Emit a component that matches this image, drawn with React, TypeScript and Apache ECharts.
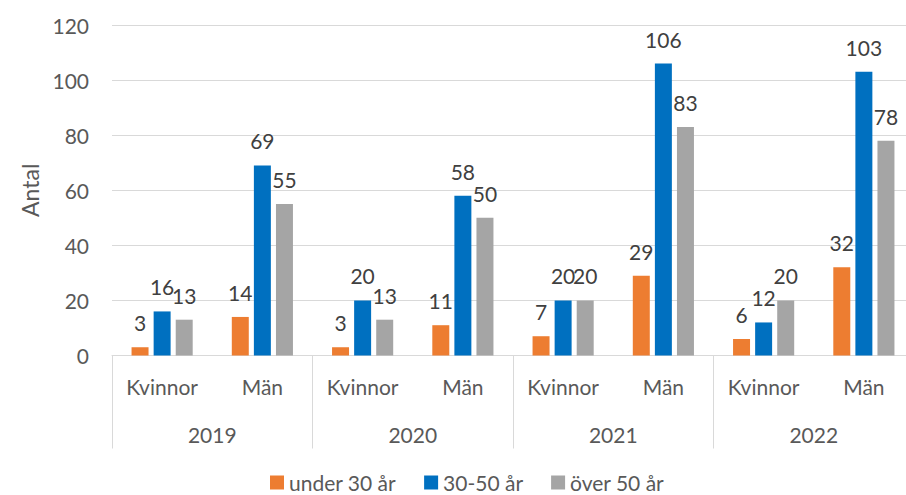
import React, { useEffect, useRef } from "react";
import * as echarts from "echarts";

const years = ["2019", "2020", "2021", "2022"];
const genders = ["Kvinnor", "Män"];
const categories = years.flatMap(() => genders);
const seriesNames = ["under 30 år", "30-50 år", "över 50 år"];
const under30 = [3, 14, 3, 11, 7, 29, 6, 32];
const mid30to50 = [16, 69, 20, 58, 20, 106, 12, 103];
const over50 = [13, 55, 13, 50, 20, 83, 20, 78];
const colors = ["#ED7D31", "#0070C0", "#A5A5A5"];
const yTicks = { min: 0, max: 120, interval: 20 };

const FONT = "Lato";
const TEXT = "#595959";
const LINE = "#D9D9D9";

export default function App() {
  const ref = useRef<HTMLDivElement>(null);
  useEffect(() => {
    if (!ref.current) return;
    const chart = echarts.init(ref.current, undefined, { renderer: "svg" });
    const values = [under30, mid30to50, over50];
    chart.setOption({
      animation: false,
      textStyle: { fontFamily: FONT },
      grid: { left: 112, top: 25, right: 8, height: 330.5, containLabel: false },
      legend: {
        left: 265,
        top: 470,
        padding: [2, 5, 2, 5],
        icon: "rect",
        itemWidth: 14,
        itemHeight: 14,
        itemGap: 28,
        textStyle: { fontFamily: FONT, fontSize: 21, lineHeight: 20, color: TEXT },
        data: seriesNames,
      },
      xAxis: [
        {
          type: "category",
          data: categories,
          position: "bottom",
          axisLine: { show: true, lineStyle: { color: LINE, width: 1 } },
          axisTick: { show: false },
          axisLabel: { color: TEXT, fontSize: 21, fontFamily: FONT, margin: 20, interval: 0 },
        },
        {
          type: "category",
          data: years,
          position: "bottom",
          axisLine: { show: false },
          axisTick: { show: true, length: 93, lineStyle: { color: LINE, width: 1 } },
          axisLabel: { color: TEXT, fontSize: 21, fontFamily: FONT, margin: 68, interval: 0 },
        },
      ],
      yAxis: {
        type: "value",
        min: yTicks.min,
        max: yTicks.max,
        interval: yTicks.interval,
        name: "Antal",
        nameLocation: "middle",
        nameRotate: 90,
        nameGap: 71,
        nameTextStyle: { color: TEXT, fontSize: 23, fontFamily: FONT },
        axisLine: { show: false },
        axisTick: { show: false },
        axisLabel: { color: TEXT, fontSize: 21, fontFamily: FONT, margin: 23 },
        splitLine: { lineStyle: { color: LINE, width: 1 } },
      },
      series: seriesNames.map((name, i) => ({
        name,
        type: "bar",
        xAxisIndex: 0,
        data: values[i],
        barGap: "30%",
        barCategoryGap: "39%",
        itemStyle: { color: colors[i] },
        label: {
          show: true,
          position: "top",
          distance: 14,
          color: "#404040",
          fontSize: 21,
          fontFamily: FONT,
        },
      })),
    });
    return () => chart.dispose();
  }, []);
  return (
    <div style={{ position: "absolute", left: 0, top: 0, width: 906, height: 495, overflow: "hidden", background: "#fff" }}>
      <div ref={ref} style={{ width: 922, height: 495 }} />
    </div>
  );
}
